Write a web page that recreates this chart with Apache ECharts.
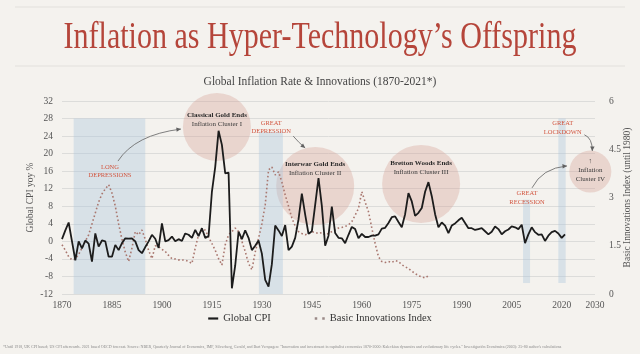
<!DOCTYPE html>
<html><head><meta charset="utf-8">
<script src="https://cdn.jsdelivr.net/npm/echarts@6/dist/echarts.min.js"></script>
<style>html,body{margin:0;padding:0;background:#f4f2ee}#c{width:640px;height:354px}</style>
</head><body><div id="c"></div>
<script>
const startYear = 1870;
// Global CPI yoy % (1870-2021)
const cpi = [
0.5, 2.5, 4.3, 0, -4.3, 0, -1.6, 0.2, -0.5, -4.6,
1.8, -1.2, 0.2, 0, -3.5, -3.5, -0.8, -2, -0.4, 0.7,
0.6, 0.7, 0, -2, -2.7, -1.3, 0, 1.5, 0.6, -1.5,
4.1, 0, 0.3, 1.1, 0, 0.5, 0.1, 1.8, 1.5, 0.8,
2.6, 1.2, 3.0, 0.8, 1.2, 11.3, 17, 25.2, 22, 15.5,
15.7, -10.7, -5.5, 2.2, 0.5, 2.5, 0.8, -2, -1, 0.2,
-2.8, -8.8, -10.3, -5.2, 3.6, 2.5, 1.2, 3.7, -2, -1.2,
0.8, 5, 10.9, 6.1, 1.7, 2.3, 8.3, 14.4, 8.1, -1.0,
1.3, 7.9, 1.9, 0.8, 0.7, -0.4, 1.5, 3.3, 2.8, 0.7,
1.7, 1.0, 1.0, 1.3, 1.3, 1.6, 2.9, 3.1, 4.2, 5.5,
5.7, 4.4, 3.2, 6.2, 11.0, 9.1, 5.8, 6.5, 7.6, 11.3,
13.5, 10.3, 6.2, 3.2, 4.3, 3.6, 1.9, 3.6, 4.1, 4.8,
5.4, 4.2, 3.0, 3.0, 2.6, 2.8, 3.0, 2.3, 1.6, 2.2,
3.4, 2.8, 1.6, 2.3, 2.7, 3.4, 3.2, 2.8, 3.8, -0.4,
1.6, 3.2, 2.1, 1.5, 1.6, 0.1, 1.3, 2.1, 2.4, 1.8,
0.8, 1.6
];
// Basic Innovations Index (1870-1980), right axis
const innovations = [
1.53, 1.36, 1.16, 1.06, 1.09, 1.23, 1.43, 1.64, 1.84, 2.18,
2.52, 2.86, 3.11, 3.27, 3.40, 3.14, 2.73, 2.18, 1.70, 1.30,
1.01, 1.43, 1.94, 1.84, 1.99, 1.70, 1.36, 1.10, 1.50, 1.47,
1.39, 1.32, 1.20, 1.10, 1.09, 1.06, 1.06, 1.05, 1.01, 0.95,
1.43, 1.84, 1.99, 1.99, 1.77, 1.57, 1.36, 1.10, 0.90, 1.53,
1.84, 1.94, 2.05, 1.94, 1.64, 1.32, 0.95, 0.75, 1.30, 1.73,
2.18, 2.77, 3.86, 3.95, 3.70, 3.80, 3.48, 3.08, 2.73, 2.36,
2.11, 1.94, 1.88, 1.84, 1.88, 1.94, 1.91, 1.88, 1.91, 1.84,
1.88, 1.94, 1.99, 2.05, 2.07, 2.10, 2.15, 2.25, 2.45, 2.66,
3.18, 2.86, 2.56, 2.05, 1.57, 1.16, 1.01, 0.98, 1.01, 0.98,
1.04, 1.01, 0.91, 0.85, 0.79, 0.71, 0.64, 0.57, 0.53, 0.50,
0.57
];
const xTickYears = [1870,1885,1900,1915,1930,1945,1960,1975,1990,2005,2020,2030];
const seriesNames = ['Global CPI', 'Basic Innovations Index'];
const axisNames = ['Global CPI yoy %', 'Basic Innovations Index (until 1980)'];
// shaded periods: [fromYear, toYear, bottomCPI, topCPI]
const bands = [
  [1873.5, 1895, -12, 28],
  [1929.1, 1936.3, -12, 25],
  [2008.4, 2010.5, -9.5, 9.5],
  [2019.0, 2021.2, -9.5, 28]
];
// inflation clusters: centre (year, CPI), text anchor CPI
const clusters = [
  {x:1916.5, y:26.1, r:34, ty:27.8, lines:['Classical Gold Ends','Inflation Cluster I']},
  {x:1946.0, y:12.6, r:39, ty:16.6, lines:['Interwar Gold Ends','Inflation Cluster II']},
  {x:1977.8, y:13.1, r:39, ty:16.7, lines:['Bretton Woods Ends','Inflation Cluster III']},
  {x:2028.6, y:15.9, r:21, ty:16.3, lines:['↑','Inflation','Cluster IV']}
];
const events = [
  {x:1884.4, y:16.0, text:'LONG\nDEPRESSIONS'},
  {x:1932.8, y:26.0, text:'GREAT\nDEPRESSION'},
  {x:2009.6, y:9.9, text:'GREAT\nRECESSION'},
  {x:2020.3, y:25.9, text:'GREAT\nLOCKDOWN'}
];
const arrows = [
  [[1886.8,18.3],[1891.9,24.3],[1905.7,25.6]],
  [[1939.4,24.0],[1941.2,22.4],[1943.0,21.3]],
  [[2011.1,12.2],[2014.1,16.7],[2021.6,17.2]],
  [[2026.8,24.3],[2029.2,23.6],[2029.2,20.6]]
];
const footnote = '*Until 1918, UK CPI based; US CPI afterwards. 2021 based OECD forecast. Source: NBER, Quarterly Journal of Economics, IMF, Silverberg, Gerald, and Bart Verspagen: "Innovation and investment in capitalist economies 1870-2000: Kaleckian dynamics and evolutionary life cycles." Investigación Económica (2003): 25-80 author\'s calculations';

const SERIF = '"Liberation Serif", "DejaVu Serif", serif';
const chart = echarts.init(document.getElementById('c'), null, {renderer:'canvas'});
const cpiData = cpi.map((v,i)=>[startYear+i, v]);
const innData = innovations.map((v,i)=>[startYear+i, v]);

chart.setOption({
  backgroundColor:'#f4f2ee',
  animation:false,
  textStyle:{fontFamily:SERIF},
  grid:{left:62, right:45, top:101, bottom:60, containLabel:false, outerBoundsMode:'none'},
  legend:{
    data:[
      {name:seriesNames[0], icon:'path://M0,0h12v2.6h-12z', itemStyle:{color:'#1c1c1c'}},
      {name:seriesNames[1], icon:'path://M0,0h2v2h-2zM6,0h2v2h-2z', itemStyle:{color:'#9a8a88'}}
    ],
    left:'center', bottom:25, itemGap:44, itemWidth:10, itemHeight:6,
    textStyle:{fontFamily:SERIF, fontSize:10.5, color:'#333'}
  },
  xAxis:{
    type:'value', min:1870, max:2030, interval:5,
    axisLine:{show:false}, axisTick:{show:false}, splitLine:{show:false},
    axisLabel:{
      fontFamily:SERIF, fontSize:9.5, color:'#555', margin:6,
      formatter:v=> xTickYears.indexOf(v)>=0 ? String(v) : ''
    }
  },
  yAxis:[
    {type:'value', min:-12, max:32, interval:4,
     axisLine:{show:false}, axisTick:{show:false},
     axisLabel:{fontFamily:SERIF, fontSize:9.5, color:'#555', margin:9},
     splitLine:{lineStyle:{color:'#dcdcda', width:1}}},
    {type:'value', min:0, max:6, interval:1.5, position:'right',
     axisLine:{show:false}, axisTick:{show:false}, splitLine:{show:false},
     axisLabel:{fontFamily:SERIF, fontSize:9.5, color:'#555', margin:14}}
  ],
  series:[
    {name:seriesNames[0], type:'line', yAxisIndex:0, data:cpiData, symbol:'none', z:5,
     lineStyle:{color:'#1c1c1c', width:1.8}, itemStyle:{color:'#1c1c1c'},
     markArea:{silent:true, itemStyle:{color:'rgba(170,198,222,0.38)'},
       data:bands.map(b=>[{xAxis:b[0], yAxis:b[3]},{xAxis:b[1], yAxis:b[2]}])}},
    {name:seriesNames[1], type:'line', yAxisIndex:1, data:innData, symbol:'none', z:4,
     lineStyle:{color:'#a9776f', width:1.6, type:[1.6,2.4]}, itemStyle:{color:'#a9776f'}}
  ]
});

function px(p){ return chart.convertToPixel({xAxisIndex:0, yAxisIndex:0}, p); }
const g = [];
g.push({type:'line', z:1, shape:{x1:15,y1:7,x2:625,y2:7}, style:{stroke:'#e2e0dc', lineWidth:1}});
g.push({type:'line', z:1, shape:{x1:15,y1:66,x2:625,y2:66}, style:{stroke:'#e2e0dc', lineWidth:1}});
g.push({type:'text', z:10, x:320, y:38, scaleX:0.79,
  style:{text:'Inflation as Hyper-Technology\u2019s Offspring', fontFamily:SERIF, fontSize:38,
         fill:'#b5453a', align:'center', verticalAlign:'middle'}});
g.push({type:'text', z:10, x:320, y:82, scaleX:0.92,
  style:{text:'Global Inflation Rate & Innovations (1870-2021*)', fontFamily:SERIF, fontSize:12.5,
         fill:'#444', align:'center', verticalAlign:'middle'}});
g.push({type:'text', z:10, x:3, y:347,
  style:{text:footnote, fontFamily:SERIF, fontSize:4, fill:'#8a8a8a', align:'left', verticalAlign:'middle'}});
// axis titles
const gr = chart.getModel().getComponent('grid').coordinateSystem.getRect();
const midY = gr.y + gr.height/2;
g.push({type:'text', z:10, x:gr.x-32, y:midY, rotation:Math.PI/2,
  style:{text:axisNames[0], fontFamily:SERIF, fontSize:9.5, fill:'#555', align:'center', verticalAlign:'middle'}});
g.push({type:'text', z:10, x:gr.x+gr.width+32, y:midY, rotation:Math.PI/2,
  style:{text:axisNames[1], fontFamily:SERIF, fontSize:9.5, fill:'#555', align:'center', verticalAlign:'middle'}});
clusters.forEach((c,k)=>{
  const p = px([c.x,c.y]);
  g.push({type:'circle', z:0, shape:{cx:p[0], cy:p[1], r:c.r}, style:{fill:'rgba(214,160,150,0.36)'}});
  const t = px([c.x,c.ty]);
  let txt;
  if (k<3) {
    txt = '{a|'+c.lines[0]+'}\n{b|'+c.lines[1]+'}';
  } else {
    txt = '{b|'+c.lines[0]+'}\n{b|'+c.lines[1]+'}\n{b|'+c.lines[2]+'}';
  }
  g.push({type:'text', z:10, x:t[0], y:t[1],
    style:{text:txt, align:'center', verticalAlign:'middle',
      rich:{a:{fontFamily:SERIF, fontSize:7, fontWeight:'bold', fill:'#2a2a2a', lineHeight:9},
            b:{fontFamily:SERIF, fontSize:7, fill:'#3a3a3a', lineHeight:9}}}});
});
events.forEach(e=>{
  const p = px([e.x,e.y]);
  g.push({type:'text', z:10, x:p[0], y:p[1],
    style:{text:e.text, fontFamily:SERIF, fontSize:6.5, fill:'#d2553f', align:'center', verticalAlign:'middle',
           lineHeight:8.5}});
});
arrows.forEach(a=>{
  const s = px(a[0]), c = px(a[1]), e = px(a[2]);
  g.push({type:'bezierCurve', z:9, shape:{x1:s[0],y1:s[1],cpx1:c[0],cpy1:c[1],x2:e[0],y2:e[1]},
    style:{stroke:'#707070', lineWidth:0.9, fill:null}});
  const dx=e[0]-c[0], dy=e[1]-c[1], L=Math.hypot(dx,dy)||1, ux=dx/L, uy=dy/L;
  const hl=4.5, hw=2.2;
  g.push({type:'polygon', z:9, shape:{points:[[e[0],e[1]],
    [e[0]-ux*hl-uy*hw, e[1]-uy*hl+ux*hw],[e[0]-ux*hl+uy*hw, e[1]-uy*hl-ux*hw]]},
    style:{fill:'#606060'}});
});
chart.setOption({graphic:{elements:g}});
</script></body></html>
